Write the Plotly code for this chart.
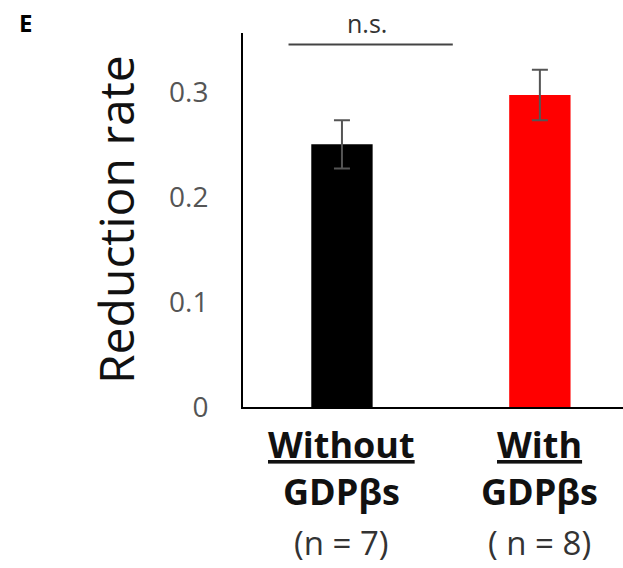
import plotly.graph_objects as go

categories = ["Without", "With"]
line1 = ["Without", "With"]
line2 = ["GDPβs", "GDPβs"]
line3 = ["(n = 7)", "( n = 8)"]
values = [0.250, 0.297]
errors = [0.023, 0.024]
colors = ["#000000", "#ff0000"]
ytick_vals = [0, 0.1, 0.2, 0.3]
ytick_text = ["0", "0.1", "0.2", "0.3"]
sig_text = "n.s."
sig_y = 0.345
sig_x = [-0.27, 0.56]

FONT = "Open Sans"
L, T, PW, PH = 243, 33, 380, 374


def px(xp):
    return (xp - L) / PW


def py(yp):
    return (T + PH - yp) / PH


fig = go.Figure()
fig.add_trace(go.Bar(
    x=[0, 1], y=values, width=0.31,
    marker=dict(color=colors, line=dict(width=0)),
    error_y=dict(type="data", array=errors, visible=True,
                 color="#555555", thickness=2, width=8),
    showlegend=False,
))
fig.add_trace(go.Scatter(
    x=sig_x, y=[sig_y, sig_y], mode="lines",
    line=dict(color="#444444", width=2), showlegend=False, hoverinfo="skip",
))

fig.update_layout(
    width=623, height=568,
    margin=dict(l=L, r=623 - L - PW, t=T, b=568 - T - PH, autoexpand=False),
    paper_bgcolor="white", plot_bgcolor="white",
    xaxis=dict(range=[-0.5, 1.42], showticklabels=False, ticks="",
               showgrid=False, zeroline=False,
               showline=True, linecolor="black", linewidth=2),
    yaxis=dict(range=[0, 0.356], tickvals=ytick_vals, ticktext=ytick_text,
               ticks="", showgrid=False, zeroline=False,
               showline=True, linecolor="black", linewidth=2,
               ticklabelstandoff=27,
               tickfont=dict(family=FONT, size=28, color="#555555")),
)

ann = []
for i in range(len(categories)):
    ann.append(dict(x=i, y=0, xref="x", yref="paper", yanchor="middle",
                    yshift=-37, showarrow=False,
                    text="<b><u>" + line1[i] + "</u></b>",
                    font=dict(family=FONT, size=36, color="#111111")))
    ann.append(dict(x=i, y=0, xref="x", yref="paper", yanchor="middle",
                    yshift=-84, showarrow=False,
                    text="<b>" + line2[i] + "</b>",
                    font=dict(family=FONT, size=36, color="#111111")))
    ann.append(dict(x=i, y=0, xref="x", yref="paper", yanchor="middle",
                    yshift=-135, showarrow=False,
                    text=line3[i],
                    font=dict(family=FONT, size=33, color="#333333")))
ann.append(dict(x=px(367), y=py(23), xref="paper", yref="paper",
                xanchor="center", yanchor="middle", showarrow=False,
                text=sig_text, font=dict(family=FONT, size=25, color="#333333")))
ann.append(dict(x=px(25), y=py(22), xref="paper", yref="paper",
                xanchor="center", yanchor="middle", showarrow=False,
                text="<b>E</b>", font=dict(family=FONT, size=24, color="black")))
ann.append(dict(x=px(115), y=py(220), xref="paper", yref="paper",
                xanchor="center", yanchor="middle", showarrow=False,
                textangle=-90, text="Reduction rate",
                font=dict(family=FONT, size=48, color="#111111")))
fig.update_layout(annotations=ann)

fig.write_html("out.html", config={"displayModeBar": False},
               post_script="document.body.style.margin='0';")
